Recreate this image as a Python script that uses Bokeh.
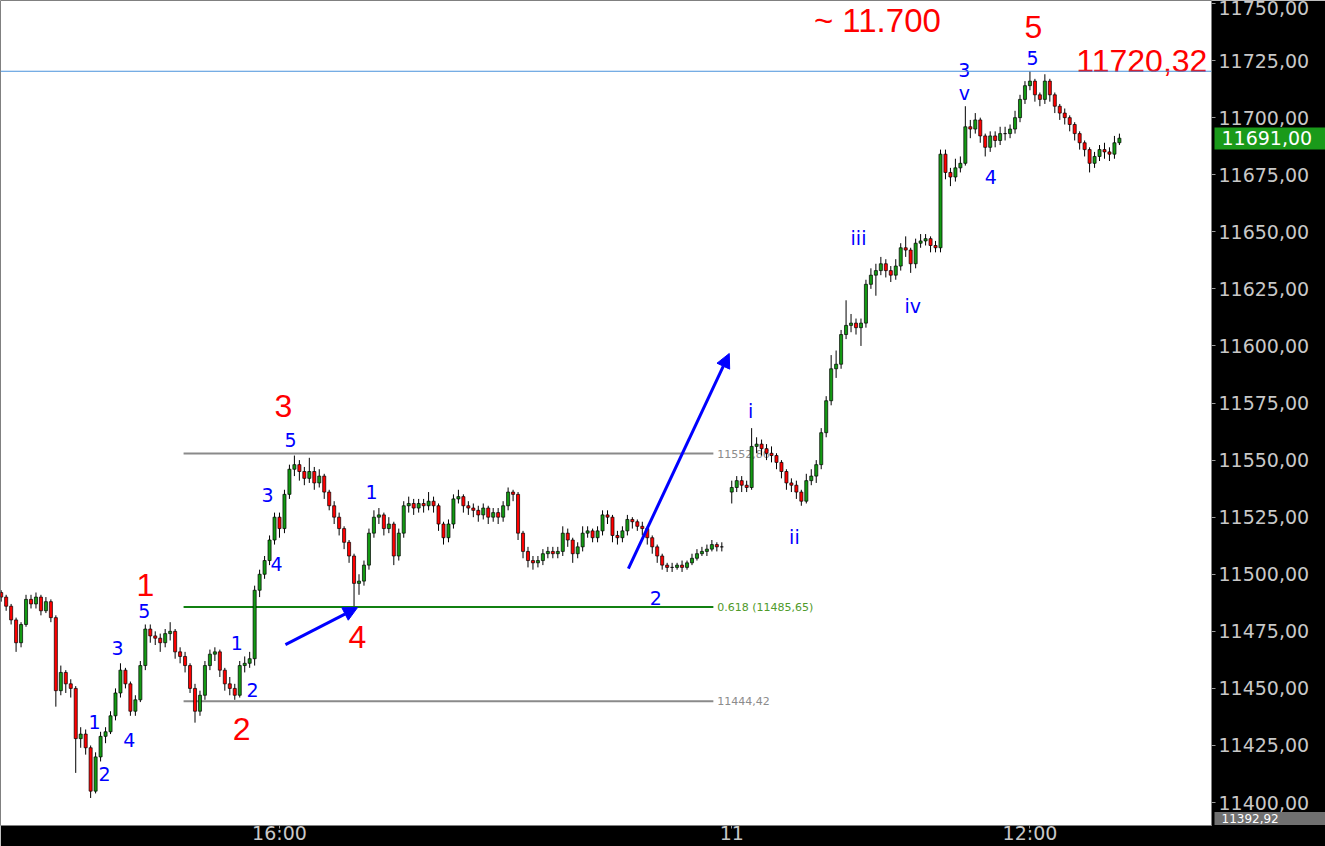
import numpy as np
from bokeh.plotting import figure
from bokeh.models import Range1d, FixedTicker, Span, Arrow, NormalHead, ColumnDataSource, LinearAxis
from bokeh.core.properties import value
from bokeh.embed import file_html
from bokeh.resources import INLINE

# ---------------- data (1-minute candles, x = minutes on a gap-less time axis) ----------------
day1_start = 4
day1_open0 = 11492
day1_close = [11490, 11486, 11480, 11470, 11478, 11489, 11487, 11490, 11484, 11488,
              11481, 11449, 11457, 11452, 11450, 11428, 11430, 11424, 11405, 11420,
              11429, 11431, 11438, 11448, 11458, 11452, 11440, 11445, 11460, 11476,
              11473, 11472, 11470, 11474, 11475, 11466, 11464, 11460, 11450, 11440,
              11447, 11460, 11465, 11466, 11458, 11452, 11450, 11447, 11460, 11461,
              11463, 11493, 11500, 11506, 11515, 11525, 11520, 11535, 11546, 11548,
              11545, 11542, 11545, 11540, 11543, 11536, 11530, 11525, 11520, 11514,
              11508, 11496, 11497, 11504, 11518, 11525, 11526, 11520, 11522, 11508,
              11518, 11530, 11531, 11529, 11531, 11530, 11532, 11530, 11522, 11516,
              11522, 11533, 11534, 11530, 11529, 11528, 11526, 11529, 11525, 11527,
              11525, 11530, 11536, 11535, 11518, 11510, 11506, 11505, 11506, 11509,
              11510, 11509, 11510, 11518, 11515, 11509, 11512, 11518, 11519, 11516,
              11519, 11526, 11525, 11517, 11516, 11519, 11524, 11523, 11521, 11520,
              11516, 11512, 11508, 11504, 11503, 11503, 11504, 11503, 11505, 11507,
              11509, 11510, 11511, 11513, 11512, 11512]
day1_high = [11493, 11491, 11487, 11481, 11479, 11491, 11491, 11492, 11491, 11490,
             11489, 11482, 11460, 11458, 11454, 11451, 11433, 11432, 11425, 11422,
             11431, 11433, 11440, 11450, 11461, 11459, 11453, 11447, 11462, 11478,
             11478, 11475, 11474, 11476, 11479, 11476, 11468, 11466, 11461, 11452,
             11449, 11462, 11467, 11468, 11467, 11459, 11455, 11452, 11462, 11464,
             11466, 11495, 11502, 11508, 11517, 11527, 11527, 11537, 11548, 11552,
             11550, 11547, 11551, 11547, 11546, 11544, 11537, 11532, 11527, 11521,
             11515, 11509, 11500, 11506, 11520, 11528, 11529, 11527, 11525, 11523,
             11520, 11532, 11534, 11533, 11533, 11533, 11536, 11534, 11531, 11523,
             11524, 11535, 11537, 11535, 11532, 11531, 11530, 11531, 11530, 11529,
             11529, 11532, 11538, 11537, 11536, 11519, 11512, 11508, 11508, 11511,
             11512, 11512, 11512, 11521, 11520, 11516, 11514, 11521, 11521, 11520,
             11521, 11528, 11528, 11526, 11519, 11521, 11526, 11525, 11524, 11523,
             11521, 11517, 11513, 11509, 11505, 11505, 11505, 11506, 11506, 11509,
             11511, 11512, 11513, 11515, 11514, 11514]
day1_low = [11488, 11484, 11478, 11466, 11468, 11477, 11485, 11485, 11482, 11483,
            11479, 11442, 11447, 11448, 11446, 11413, 11424, 11421, 11402, 11404,
            11418, 11426, 11430, 11436, 11446, 11450, 11438, 11438, 11444, 11458,
            11470, 11469, 11466, 11468, 11471, 11463, 11461, 11457, 11448, 11435,
            11438, 11445, 11458, 11462, 11455, 11449, 11447, 11445, 11446, 11457,
            11459, 11460, 11490, 11498, 11504, 11513, 11516, 11518, 11533, 11543,
            11541, 11539, 11540, 11537, 11538, 11533, 11528, 11522, 11517, 11511,
            11505, 11486, 11491, 11495, 11502, 11516, 11522, 11517, 11518, 11504,
            11506, 11516, 11527, 11526, 11527, 11527, 11528, 11527, 11519, 11513,
            11514, 11520, 11531, 11527, 11526, 11525, 11523, 11524, 11522, 11523,
            11522, 11523, 11528, 11532, 11515, 11507, 11503, 11502, 11503, 11504,
            11507, 11507, 11507, 11508, 11512, 11505, 11507, 11510, 11516, 11514,
            11514, 11517, 11522, 11514, 11513, 11514, 11517, 11520, 11519, 11517,
            11513, 11509, 11505, 11502, 11501, 11501, 11502, 11501, 11502, 11504,
            11506, 11508, 11508, 11510, 11510, 11510]

day2_start = 151
day2_open0 = 11536
day2_close = [11538, 11541, 11539, 11538, 11556, 11557, 11555, 11553, 11552, 11549,
              11545, 11540, 11539, 11536, 11532, 11541, 11543, 11548, 11562, 11576,
              11590, 11592, 11605, 11609, 11610, 11608, 11610, 11627, 11631, 11633,
              11636, 11633, 11631, 11635, 11643, 11642, 11636, 11645, 11646, 11647,
              11644, 11643, 11684, 11676, 11674, 11678, 11680, 11696, 11695, 11699,
              11692, 11687, 11692, 11690, 11693, 11693, 11695, 11700, 11708, 11714,
              11716, 11710, 11708, 11716, 11710, 11705, 11702, 11700, 11697, 11693,
              11689, 11686, 11680, 11683, 11686, 11685, 11684, 11689, 11691]
day2_high = [11541, 11543, 11543, 11541, 11564, 11560, 11559, 11557, 11556, 11553,
             11550, 11546, 11542, 11541, 11537, 11544, 11546, 11550, 11564, 11578,
             11596, 11598, 11607, 11620, 11614, 11612, 11612, 11629, 11634, 11636,
             11639, 11638, 11635, 11638, 11645, 11648, 11643, 11647, 11649, 11649,
             11648, 11646, 11686, 11686, 11678, 11682, 11683, 11705, 11699, 11702,
             11700, 11693, 11694, 11694, 11696, 11696, 11697, 11703, 11710, 11716,
             11720.3, 11717, 11711, 11719, 11717, 11711, 11706, 11704, 11701, 11698,
             11694, 11690, 11687, 11685, 11688, 11689, 11687, 11692, 11693]
day2_low = [11531, 11536, 11536, 11536, 11537, 11553, 11552, 11550, 11549, 11546,
            11542, 11537, 11536, 11533, 11530, 11531, 11539, 11540, 11546, 11560,
            11574, 11586, 11590, 11603, 11606, 11605, 11600, 11608, 11625, 11622,
            11631, 11630, 11628, 11629, 11633, 11639, 11632, 11634, 11643, 11644,
            11641, 11641, 11641, 11673, 11670, 11672, 11676, 11679, 11691, 11693,
            11689, 11683, 11685, 11687, 11688, 11690, 11691, 11693, 11698, 11706,
            11712, 11707, 11705, 11706, 11707, 11702, 11699, 11697, 11694, 11690,
            11686, 11683, 11676, 11678, 11681, 11682, 11681, 11682, 11688]

y_ticks = [11400, 11425, 11450, 11475, 11500, 11525, 11550, 11575, 11600,
           11625, 11650, 11675, 11700, 11725, 11750]
y_tick_labels = ["11400,00", "11425,00", "11450,00", "11475,00", "11500,00", "11525,00",
                 "11550,00", "11575,00", "11600,00", "11625,00", "11650,00", "11675,00",
                 "11700,00", "11725,00", "11750,00"]
x_ticks = [60, 151, 211]
x_tick_labels = ["16:00", "11", "12:00"]

# horizontal levels
level_high = 11552.86
level_fib = 11485.65
level_low = 11444.42
level_top = 11720.32
last_price = 11691.00
range_low = 11392.92
level_span = [40.7, 147.3]

# wave labels (x minute, y price, text)
red_x = [33.0, 52.4, 60.8, 75.7, 211.7]
red_y = [11495.1, 11432.4, 11573.9, 11472.3, 11739.5]
red_t = ["1", "2", "3", "4", "5"]
blue_x = [32.8, 27.4, 22.8, 29.8, 24.8, 51.4, 54.6, 57.6, 59.4, 62.2, 78.5, 135.7,
          154.8, 163.6, 176.5, 187.4, 197.8, 197.8, 203.1, 211.5]
blue_y = [11484.1, 11467.5, 11435.1, 11427.6, 11412.7, 11470.1, 11449.1, 11534.5, 11504.3,
          11559.0, 11536.2, 11489.8, 11571.7, 11516.5, 11647.5, 11617.7, 11720.7, 11711.0,
          11673.8, 11726.3]
blue_t = ["5", "3", "1", "4", "2", "1", "2", "3", "4", "5", "1", "2",
          "i", "ii", "iii", "iv", "3", "v", "4", "5"]
arrows = [(61.2, 11469.2, 75.7, 11485.4), (130.2, 11502.5, 150.5, 11596.7)]

# ---------------- build OHLC ----------------
def build(start, open0, close, high, low):
    n = len(close)
    t = np.arange(start, start + n)
    o = np.array([open0] + close[:-1], dtype=float)
    c = np.array(close, dtype=float)
    return t, o, np.array(high, float), np.array(low, float), c

t1, o1, h1, l1, c1 = build(day1_start, day1_open0, day1_close, day1_high, day1_low)
t2, o2, h2, l2, c2 = build(day2_start, day2_open0, day2_close, day2_high, day2_low)
t = np.concatenate([t1, t2]); o = np.concatenate([o1, o2]); h = np.concatenate([h1, h2])
l = np.concatenate([l1, l2]); c = np.concatenate([c1, c2])
col = np.where(c > o, "#139a13", np.where(c < o, "#ff0000", "#000000"))
src = ColumnDataSource(dict(t=t, o=o, h=h, l=l, c=c, top=np.maximum(o, c), bot=np.minimum(o, c), col=col))

X0, X1 = 3.863, 247.53
Y0, Y1 = 11389.95, 11751.31

p = figure(width=1325, height=846, x_range=Range1d(X0, X1), y_range=Range1d(Y0, Y1),
           y_axis_location="right", output_backend="svg", toolbar_location=None,
           min_border_left=0, min_border_top=0, min_border_right=114, min_border_bottom=21,
           background_fill_color="white", border_fill_color="black", outline_line_color="#808080")
p.grid.visible = False

yax = p.yaxis[0]
yax.ticker = FixedTicker(ticks=y_ticks)
yax.major_label_overrides = {v: s for v, s in zip(y_ticks, y_tick_labels)}
yax.major_label_text_font = "DejaVu Sans"
yax.major_label_text_font_size = "19px"
yax.major_label_text_color = "#c8c8c8"
yax.major_tick_in = 0
yax.major_tick_out = 4
yax.major_tick_line_color = "#9a9a9a"
yax.minor_tick_line_color = None
yax.axis_line_color = None
yax.major_label_standoff = 3

xax = p.xaxis[0]
xax.ticker = FixedTicker(ticks=x_ticks)
xax.major_label_overrides = {v: s for v, s in zip(x_ticks, x_tick_labels)}
xax.major_label_text_font = "DejaVu Sans"
xax.major_label_text_font_size = "19px"
xax.major_label_text_color = "#c8c8c8"
xax.major_label_standoff = -7
xax.major_tick_in = 0
xax.major_tick_out = 3
xax.major_tick_line_color = "#9a9a9a"
xax.minor_tick_line_color = None
xax.axis_line_color = None

# price badges: extra axes stacked right of the price axis; a thick tick is the box,
# reaching back (tick_in) to the plot edge, and the label is pulled back onto it.
MAIN_AXIS_EXTENT = 98
def badge(price, text, color, thickness, font_size, reach, out):
    ax = LinearAxis(ticker=FixedTicker(ticks=[price]),
                    major_label_overrides={price: text},
                    major_tick_in=reach, major_tick_out=out, major_tick_line_width=thickness,
                    major_tick_line_color=color, major_tick_line_cap="butt",
                    major_label_standoff=-(reach + out - 7), major_label_text_color="white",
                    major_label_text_font="DejaVu Sans", major_label_text_font_size=font_size,
                    minor_tick_line_color=None, axis_line_color=None)
    p.add_layout(ax, "right")

badge(last_price, "11691,00", "#1a9a1a", 22, "19px", MAIN_AXIS_EXTENT, 16)
badge(range_low, "11392,92", "#707070", 13, "12px", MAIN_AXIS_EXTENT + 3, 13)

# level line labels (below candles)
p.text(x=[level_span[1] + 0.8] * 3, y=[level_high, level_fib, level_low],
       text=["11552,86", "0.618 (11485,65)", "11444,42"],
       text_color=["#8c8c8c", "#4f9a2a", "#8c8c8c"], text_font=value("DejaVu Sans"),
       text_font_size=value("11px"), text_baseline="middle", text_align="left")

p.add_layout(Span(location=level_top, dimension="width", line_color="#4a93dc", line_width=1))
p.segment(x0=[level_span[0]] * 3, x1=[level_span[1]] * 3, y0=[level_high, level_fib, level_low],
          y1=[level_high, level_fib, level_low], line_color=["#8a8a8a", "#118011", "#8a8a8a"], line_width=2)

# candles
p.segment(x0="t", x1="t", y0="l", y1="h", source=src, line_color="black", line_width=1)
p.vbar(x="t", top="top", bottom="bot", width=0.62, source=src, fill_color="col",
       line_color="black", line_width=0.7)

# wave labels
p.text(x=red_x, y=red_y, text=red_t, text_color="#ff0000", text_font=value("Liberation Sans"),
       text_font_size=value("32px"), text_align="center", text_baseline="middle")
p.text(x=blue_x, y=blue_y, text=blue_t, text_color="#0000ff", text_font=value("DejaVu Sans"),
       text_font_size=value("19px"), text_align="center", text_baseline="middle")
p.text(x=[180.3], y=[11742.6], text=["~ 11.700"], text_color="#ff0000", text_font=value("Liberation Sans"),
       text_font_size=value("33px"), text_align="center", text_baseline="middle")
p.text(x=[246.7], y=[11725.0], text=["11720,32"], text_color="#ff0000", text_font=value("Liberation Sans"),
       text_font_size=value("32px"), text_align="right", text_baseline="middle")

for (xs, ys, xe, ye) in arrows:
    p.add_layout(Arrow(end=NormalHead(size=14, fill_color="#0000ff", line_color="#0000ff"),
                       x_start=xs, y_start=ys, x_end=xe, y_end=ye, line_color="#0000ff", line_width=3))

open("out.html", "w").write(file_html(p, INLINE))
